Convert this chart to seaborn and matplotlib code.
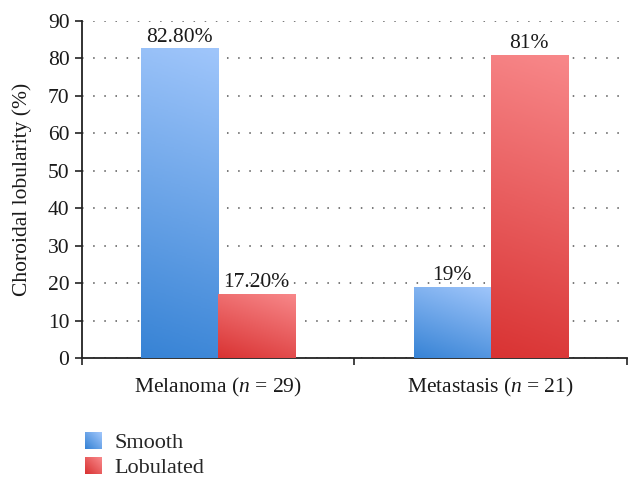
import numpy as np
import pandas as pd
import matplotlib
matplotlib.use("Agg")
import matplotlib.pyplot as plt
import seaborn as sns
from matplotlib.patches import Patch
from matplotlib.colors import LinearSegmentedColormap, Normalize
from matplotlib.legend_handler import HandlerBase
from matplotlib.image import BboxImage
from matplotlib.transforms import Bbox, TransformedBbox

categories = [r"Melanoma ($\mathit{n}$ = 29)", r"Metastasis ($\mathit{n}$ = 21)"]
series = ["Smooth", "Lobulated"]
smooth = [82.8, 19.0]
lobulated = [17.2, 81.0]
bar_labels_smooth = ["82.80%", "19%"]
bar_labels_lobulated = ["17.20%", "81%"]
yticks = [0, 10, 20, 30, 40, 50, 60, 70, 80, 90]

df = pd.DataFrame({
    "cat": categories * 2,
    "series": [series[0]] * 2 + [series[1]] * 2,
    "value": smooth + lobulated,
})

sns.set_theme(style="white")
plt.rcParams["font.family"] = ["Liberation Serif", "DejaVu Serif"]
plt.rcParams["mathtext.fontset"] = "custom"
plt.rcParams["mathtext.rm"] = "Liberation Serif"
plt.rcParams["mathtext.it"] = "Liberation Serif:italic"

FS = 15.5
TXT = "#1a1a1a"
blue_light, blue_dark = "#a0c6fb", "#3783d5"
red_light, red_dark = "#f8888a", "#d93333"

fig = plt.figure(figsize=(6.42, 4.91), dpi=100)
ax = fig.add_axes([0.1277, 0.2709, 0.8489, 0.6863])

sns.barplot(data=df, x="cat", y="value", hue="series", order=categories,
            hue_order=series, palette=[blue_dark, red_dark], width=0.566,
            gap=0, ax=ax, legend=False, zorder=3, edgecolor="none")

cmaps = [LinearSegmentedColormap.from_list("b", [blue_dark, blue_light]),
         LinearSegmentedColormap.from_list("r", [red_dark, red_light])]

# gradient fill per bar
for ci, cont in enumerate(ax.containers):
    for p in cont.patches:
        x0, y0 = p.get_x(), p.get_y()
        w, h = p.get_width(), p.get_height()
        n = 100
        GX, GY = np.meshgrid(np.linspace(0, 1, n), np.linspace(0, 1, n))
        aspect = (h / 90 * 337) / (w / 2 * 545)
        Z = (0.35 * GX + aspect * GY) / (0.35 + aspect)
        im = ax.imshow(Z, cmap=cmaps[ci], extent=[x0, x0 + w, y0, y0 + h],
                       origin="lower", aspect="auto", zorder=3, vmin=0, vmax=1)
        im.set_clip_path(p)
        p.set_facecolor("none")

labels_all = [bar_labels_smooth, bar_labels_lobulated]
for ci, cont in enumerate(ax.containers):
    ax.bar_label(cont, labels=labels_all[ci], padding=1, fontsize=FS, color=TXT)

ax.set_xlim(-0.5, 1.5)
ax.set_ylim(0, 90)
ax.set_yticks(yticks)
ax.set_yticklabels([str(t) for t in yticks], fontsize=FS, color=TXT)
ax.set_xticks([0, 1])
ax.set_xticklabels(categories, fontsize=FS, color=TXT)
ax.set_xticks([-0.5, 0.5, 1.5], minor=True)
ax.tick_params(axis="x", which="major", length=0, pad=13)
ax.tick_params(axis="x", which="minor", length=5, width=1.2, color="#222222",
               direction="out", bottom=True)
ax.tick_params(axis="y", length=5, width=1.2, color="#222222", direction="out",
               left=True, pad=4)
ax.set_xlabel("")
ax.set_ylabel("Choroidal lobularity (%)", fontsize=FS, color=TXT, labelpad=11)

ax.yaxis.grid(True, linestyle=(0, (1, 6.3)), color="#555555", linewidth=1.1,
              zorder=0)
ax.set_axisbelow(True)
for s in ["top", "right"]:
    ax.spines[s].set_visible(False)
for s in ["left", "bottom"]:
    ax.spines[s].set_color("#222222")
    ax.spines[s].set_linewidth(1.3)


class GradHandler(HandlerBase):
    def __init__(self, cmap):
        super().__init__()
        self.cmap = cmap

    def create_artists(self, legend, orig_handle, xdescent, ydescent, width,
                       height, fontsize, trans):
        bb = Bbox.from_bounds(-xdescent, -ydescent, width, height)
        img = BboxImage(TransformedBbox(bb, trans), cmap=self.cmap,
                        norm=Normalize(0, 1), interpolation="bilinear",
                        origin="lower")
        GX, GY = np.meshgrid(np.linspace(0, 1, 20), np.linspace(0, 1, 20))
        img.set_data((GX + GY) / 2)
        return [img]


handles = [Patch(facecolor="#5d9ce6"), Patch(facecolor="#e85657")]
fig.legend(handles, series, loc="upper left", bbox_to_anchor=(0.132, 0.12),
           frameon=False, fontsize=16, handlelength=0.75, handleheight=0.8,
           handletextpad=0.6, labelspacing=0.15, borderaxespad=0,
           borderpad=0,
           handler_map={handles[0]: GradHandler(cmaps[0]),
                        handles[1]: GradHandler(cmaps[1])})

fig.savefig("out.png", dpi=100)
